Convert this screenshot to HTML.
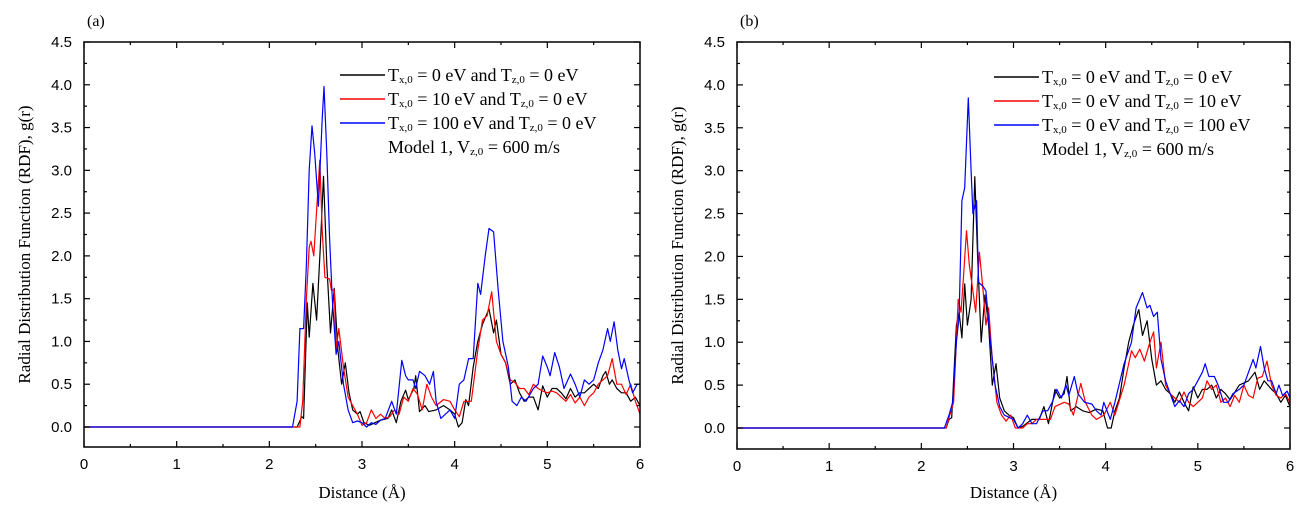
<!DOCTYPE html>
<html><head><meta charset="utf-8">
<style>
body{margin:0;background:#fff;width:1316px;height:518px;overflow:hidden}
svg{display:block}
.tk{font-family:"Liberation Sans",Arial,sans-serif;font-size:15px;fill:#000}
.sf{font-family:"Liberation Serif","Times New Roman",serif;fill:#000}
</style></head>
<body>
<svg id="chart" width="1316" height="518" viewBox="0 0 1316 518" xmlns="http://www.w3.org/2000/svg"></svg>
<script>
const xTicks=[0,1,2,3,4,5,6];
const xTickLabels=["0","1","2","3","4","5","6"];
const yTicks=[0,0.5,1,1.5,2,2.5,3,3.5,4,4.5];
const yTickLabels=["0.0","0.5","1.0","1.5","2.0","2.5","3.0","3.5","4.0","4.5"];
const blackA=[[0,0],[2.3,0],[2.35,0.12],[2.37,0.1],[2.41,1.45],[2.43,1.05],[2.47,1.68],[2.51,1.25],[2.55,2.1],[2.585,2.93],[2.62,1.9],[2.66,1.1],[2.7,1.62],[2.74,0.9],[2.78,0.5],[2.82,0.75],[2.86,0.4],[2.9,0.2],[2.95,0.15],[2.98,0.18],[3.02,0.05],[3.08,0.02],[3.14,0.05],[3.2,0.08],[3.28,0.1],[3.32,0.2],[3.37,0.05],[3.42,0.3],[3.47,0.43],[3.5,0.32],[3.56,0.45],[3.58,0.6],[3.62,0.18],[3.68,0.25],[3.72,0.18],[3.8,0.2],[3.88,0.25],[3.95,0.2],[4.0,0.15],[4.04,0.0],[4.08,0.05],[4.12,0.32],[4.15,0.25],[4.2,0.7],[4.25,1.0],[4.3,1.2],[4.37,1.38],[4.42,1.1],[4.45,1.25],[4.5,0.85],[4.55,0.75],[4.6,0.5],[4.65,0.55],[4.7,0.4],[4.75,0.3],[4.8,0.35],[4.85,0.35],[4.9,0.2],[4.95,0.48],[5.0,0.35],[5.05,0.45],[5.1,0.45],[5.15,0.4],[5.2,0.33],[5.25,0.45],[5.3,0.35],[5.35,0.4],[5.4,0.4],[5.5,0.5],[5.55,0.45],[5.6,0.6],[5.63,0.65],[5.67,0.5],[5.7,0.55],[5.75,0.45],[5.8,0.4],[5.85,0.4],[5.9,0.3],[5.95,0.35],[6.0,0.25]];
const redA=[[0,0],[2.33,0],[2.36,0.3],[2.4,1.5],[2.43,2.1],[2.45,2.17],[2.48,2.0],[2.52,2.7],[2.545,3.12],[2.57,2.3],[2.6,1.75],[2.65,1.73],[2.67,1.6],[2.7,1.6],[2.72,0.9],[2.75,1.15],[2.8,0.7],[2.85,0.35],[2.9,0.25],[2.95,0.15],[3.0,0.02],[3.05,0.05],[3.1,0.2],[3.15,0.1],[3.2,0.15],[3.25,0.1],[3.3,0.12],[3.35,0.2],[3.4,0.15],[3.45,0.35],[3.5,0.3],[3.55,0.45],[3.6,0.38],[3.65,0.2],[3.7,0.5],[3.75,0.35],[3.8,0.25],[3.88,0.32],[3.95,0.3],[4.0,0.2],[4.05,0.12],[4.1,0.3],[4.18,0.3],[4.25,0.9],[4.3,1.25],[4.35,1.3],[4.4,1.58],[4.45,1.0],[4.5,0.85],[4.55,0.75],[4.6,0.55],[4.65,0.52],[4.7,0.45],[4.75,0.45],[4.8,0.38],[4.85,0.5],[4.9,0.45],[4.95,0.42],[5.0,0.4],[5.05,0.42],[5.1,0.4],[5.15,0.35],[5.2,0.3],[5.25,0.38],[5.3,0.28],[5.35,0.35],[5.4,0.25],[5.45,0.35],[5.5,0.4],[5.55,0.5],[5.6,0.55],[5.65,0.6],[5.7,0.8],[5.75,0.5],[5.8,0.5],[5.85,0.38],[5.9,0.5],[5.95,0.3],[6.0,0.15]];
const blueA=[[0,0],[2.25,0],[2.3,0.3],[2.33,1.15],[2.37,1.15],[2.4,1.9],[2.43,3.0],[2.46,3.52],[2.49,3.2],[2.53,2.58],[2.57,3.6],[2.59,3.98],[2.62,3.2],[2.65,2.2],[2.68,1.5],[2.72,0.85],[2.75,1.0],[2.8,0.5],[2.85,0.2],[2.9,0.05],[2.95,0.07],[3.0,0.05],[3.05,0.0],[3.1,0.05],[3.15,0.03],[3.2,0.08],[3.25,0.1],[3.32,0.3],[3.37,0.15],[3.43,0.78],[3.47,0.6],[3.5,0.55],[3.55,0.55],[3.58,0.45],[3.62,0.65],[3.68,0.6],[3.73,0.5],[3.77,0.65],[3.8,0.3],[3.85,0.1],[3.9,0.15],[3.95,0.2],[4.0,0.1],[4.05,0.5],[4.1,0.55],[4.15,0.8],[4.2,0.8],[4.25,1.68],[4.28,1.55],[4.33,2.0],[4.37,2.32],[4.42,2.28],[4.47,1.6],[4.52,1.0],[4.58,0.7],[4.62,0.3],[4.67,0.25],[4.72,0.35],[4.77,0.3],[4.85,0.45],[4.9,0.5],[4.95,0.83],[5.0,0.7],[5.03,0.6],[5.08,0.87],[5.13,0.7],[5.18,0.45],[5.25,0.62],[5.3,0.5],[5.35,0.35],[5.4,0.55],[5.45,0.5],[5.5,0.55],[5.55,0.75],[5.6,0.9],[5.65,1.15],[5.68,1.0],[5.72,1.23],[5.76,0.9],[5.8,0.68],[5.83,0.8],[5.88,0.55],[5.92,0.4],[5.97,0.5],[6.0,0.5]];
const blackB=[[0,0],[2.27,0],[2.3,0.1],[2.33,0.12],[2.38,1.2],[2.41,1.35],[2.44,1.05],[2.47,1.68],[2.5,1.2],[2.54,1.5],[2.58,2.93],[2.61,2.0],[2.65,1.0],[2.69,1.55],[2.73,1.2],[2.77,0.5],[2.81,0.75],[2.85,0.35],[2.9,0.2],[2.95,0.15],[3.0,0.12],[3.05,0.0],[3.1,0.02],[3.2,0.1],[3.28,0.1],[3.33,0.25],[3.38,0.05],[3.45,0.45],[3.5,0.35],[3.55,0.4],[3.58,0.6],[3.62,0.2],[3.68,0.25],[3.75,0.2],[3.82,0.18],[3.9,0.22],[3.97,0.2],[4.02,0.0],[4.06,0.0],[4.1,0.2],[4.15,0.35],[4.2,0.7],[4.25,1.0],[4.3,1.2],[4.36,1.38],[4.4,1.08],[4.45,1.25],[4.5,0.8],[4.55,0.5],[4.6,0.55],[4.65,0.45],[4.7,0.4],[4.75,0.3],[4.8,0.42],[4.85,0.3],[4.9,0.2],[4.95,0.48],[5.0,0.35],[5.05,0.45],[5.1,0.45],[5.15,0.5],[5.2,0.35],[5.25,0.45],[5.3,0.4],[5.35,0.33],[5.45,0.5],[5.55,0.55],[5.62,0.65],[5.67,0.45],[5.72,0.55],[5.8,0.45],[5.85,0.4],[5.9,0.3],[5.95,0.38],[6.0,0.25]];
const redB=[[0,0],[2.27,0],[2.3,0.12],[2.35,0.3],[2.4,1.5],[2.43,1.35],[2.46,1.8],[2.49,2.3],[2.52,1.9],[2.56,1.6],[2.59,1.35],[2.63,2.05],[2.67,1.6],[2.7,1.2],[2.73,1.4],[2.77,0.8],[2.82,0.3],[2.87,0.15],[2.92,0.08],[2.97,0.15],[3.02,0.0],[3.1,0.0],[3.15,0.05],[3.2,0.05],[3.25,0.1],[3.35,0.1],[3.4,0.1],[3.45,0.25],[3.55,0.3],[3.6,0.28],[3.65,0.15],[3.73,0.52],[3.78,0.3],[3.85,0.15],[3.9,0.1],[3.98,0.15],[4.05,0.3],[4.1,0.15],[4.2,0.5],[4.28,0.9],[4.32,0.82],[4.37,0.92],[4.42,0.78],[4.48,1.0],[4.52,1.12],[4.55,0.7],[4.6,1.0],[4.65,0.5],[4.7,0.4],[4.75,0.35],[4.8,0.3],[4.85,0.42],[4.9,0.3],[4.95,0.25],[5.0,0.3],[5.05,0.35],[5.1,0.55],[5.15,0.45],[5.2,0.5],[5.25,0.3],[5.3,0.35],[5.35,0.25],[5.4,0.38],[5.45,0.3],[5.5,0.5],[5.55,0.38],[5.6,0.35],[5.65,0.58],[5.7,0.6],[5.75,0.78],[5.8,0.5],[5.85,0.38],[5.9,0.35],[5.95,0.4],[6.0,0.3]];
const blueB=[[0,0],[2.25,0],[2.3,0.15],[2.34,0.3],[2.38,1.0],[2.41,1.3],[2.44,2.65],[2.47,2.8],[2.51,3.85],[2.54,3.0],[2.56,2.5],[2.6,2.65],[2.62,1.7],[2.67,1.65],[2.7,1.6],[2.75,1.0],[2.8,0.5],[2.85,0.25],[2.9,0.15],[3.0,0.1],[3.05,0.0],[3.1,0.05],[3.15,0.15],[3.2,0.05],[3.25,0.05],[3.32,0.2],[3.37,0.2],[3.42,0.3],[3.47,0.45],[3.52,0.35],[3.57,0.5],[3.6,0.38],[3.66,0.6],[3.7,0.4],[3.77,0.3],[3.85,0.28],[3.9,0.2],[3.95,0.15],[3.98,0.3],[4.05,0.1],[4.1,0.3],[4.2,0.75],[4.28,1.0],[4.33,1.4],[4.4,1.58],[4.45,1.4],[4.48,1.43],[4.52,1.3],[4.56,1.35],[4.6,0.8],[4.65,0.55],[4.7,0.4],[4.75,0.25],[4.8,0.32],[4.85,0.25],[4.9,0.4],[4.95,0.45],[5.0,0.55],[5.05,0.65],[5.08,0.75],[5.12,0.6],[5.18,0.6],[5.22,0.5],[5.28,0.3],[5.33,0.3],[5.38,0.4],[5.45,0.45],[5.5,0.5],[5.55,0.65],[5.6,0.8],[5.63,0.7],[5.68,0.95],[5.72,0.7],[5.76,0.55],[5.8,0.55],[5.85,0.4],[5.88,0.5],[5.92,0.38],[5.97,0.43],[6.0,0.35]];
const legendA=[["0","0"],["10","0"],["100","0"]];
const legendB=[["0","0"],["0","10"],["0","100"]];

const NS="http://www.w3.org/2000/svg";
const svg=document.getElementById('chart');
function mk(tag,attrs,parent){const e=document.createElementNS(NS,tag);for(const k in attrs)e.setAttribute(k,attrs[k]);(parent||svg).appendChild(e);return e;}

function panel(id,L,R,T,B,y0px,series,legend,lx,ly){
  const g=mk('g',{});
  
  
  const X=v=>L+(R-L)*v/6;
  const Y=v=>y0px-(y0px-T)*v/4.5;
  const cols=['#000','#f00','#00f'];
  const names=['series-black','series-red','series-blue'];
  series.forEach((s,i)=>{
    const p=mk('polyline',{points:s.map(d=>X(d[0]).toFixed(1)+','+Y(d[1]).toFixed(1)).join(' '),fill:'none',stroke:cols[i],'stroke-width':1.2,'stroke-linejoin':'round'},g);
    
    
  });
  const fr=mk('rect',{x:L,y:T,width:R-L,height:B-T,fill:'none',stroke:'#000','stroke-width':1.5},g);
  
  
  for(let v=0;v<=6.001;v+=0.5){
    const maj=Math.abs(v-Math.round(v))<1e-6, len=maj?6:3;
    mk('line',{x1:X(v),x2:X(v),y1:B,y2:B-len,stroke:'#000','stroke-width':1.2},g);
    mk('line',{x1:X(v),x2:X(v),y1:T,y2:T+len,stroke:'#000','stroke-width':1.2},g);
  }
  xTicks.forEach((v,i)=>{
    const t=mk('text',{x:X(v),y:B+22,'text-anchor':'middle',class:'tk'},g);
    t.textContent=xTickLabels[i];
    
    
  });
  for(let v=-0.25;v<=4.5001;v+=0.25){
    const maj=Math.abs(v*2-Math.round(v*2))<1e-6, len=maj?6:3;
    if(Y(v)>B)continue;
    mk('line',{x1:L,x2:L+len,y1:Y(v),y2:Y(v),stroke:'#000','stroke-width':1.2},g);
    mk('line',{x1:R,x2:R-len,y1:Y(v),y2:Y(v),stroke:'#000','stroke-width':1.2},g);
  }
  yTicks.forEach((v,i)=>{
    const t=mk('text',{x:L-12,y:Y(v)+5,'text-anchor':'end',class:'tk'},g);
    t.textContent=yTickLabels[i];
    
    
  });
  const xt=mk('text',{x:(L+R)/2,y:498,'text-anchor':'middle',class:'sf','font-size':17},g);
  xt.textContent='Distance (Å)';
  
  
  const cy=(T+B)/2;
  const yt=mk('text',{x:L-54,y:cy,'text-anchor':'middle',class:'sf','font-size':17,transform:`rotate(-90 ${L-54} ${cy})`},g);
  yt.textContent='Radial Distribution Function (RDF), g(r)';
  
  
  const pl=mk('text',{x:L+3,y:26,class:'sf','font-size':16},g);
  pl.textContent='('+id+')';
  
  
  legend.forEach((d,i)=>{
    const y=ly+i*24;
    const ln=mk('line',{x1:lx,x2:lx+45,y1:y,y2:y,stroke:cols[i],'stroke-width':1.4},g);
    
    
    const t=mk('text',{x:lx+48,y:y+6,class:'sf','font-size':18},g);
    t.innerHTML=`T<tspan font-size="11" dy="2">x,0</tspan><tspan dy="-2"> = ${d[0]} eV and T</tspan><tspan font-size="11" dy="2">z,0</tspan><tspan dy="-2"> = ${d[1]} eV</tspan>`;
    
    
  });
  const m=mk('text',{x:lx+48,y:ly+3*24+6,class:'sf','font-size':18},g);
  m.innerHTML='Model 1, V<tspan font-size="11" dy="2">z,0</tspan><tspan dy="-2"> = 600 m/s</tspan>';
  
  
}
panel('a',84,640,42,447,427,[blackA,redA,blueA],legendA,340,75);
panel('b',737,1290,42,449,428,[blackB,redB,blueB],legendB,994,77);
</script>
</body></html>
